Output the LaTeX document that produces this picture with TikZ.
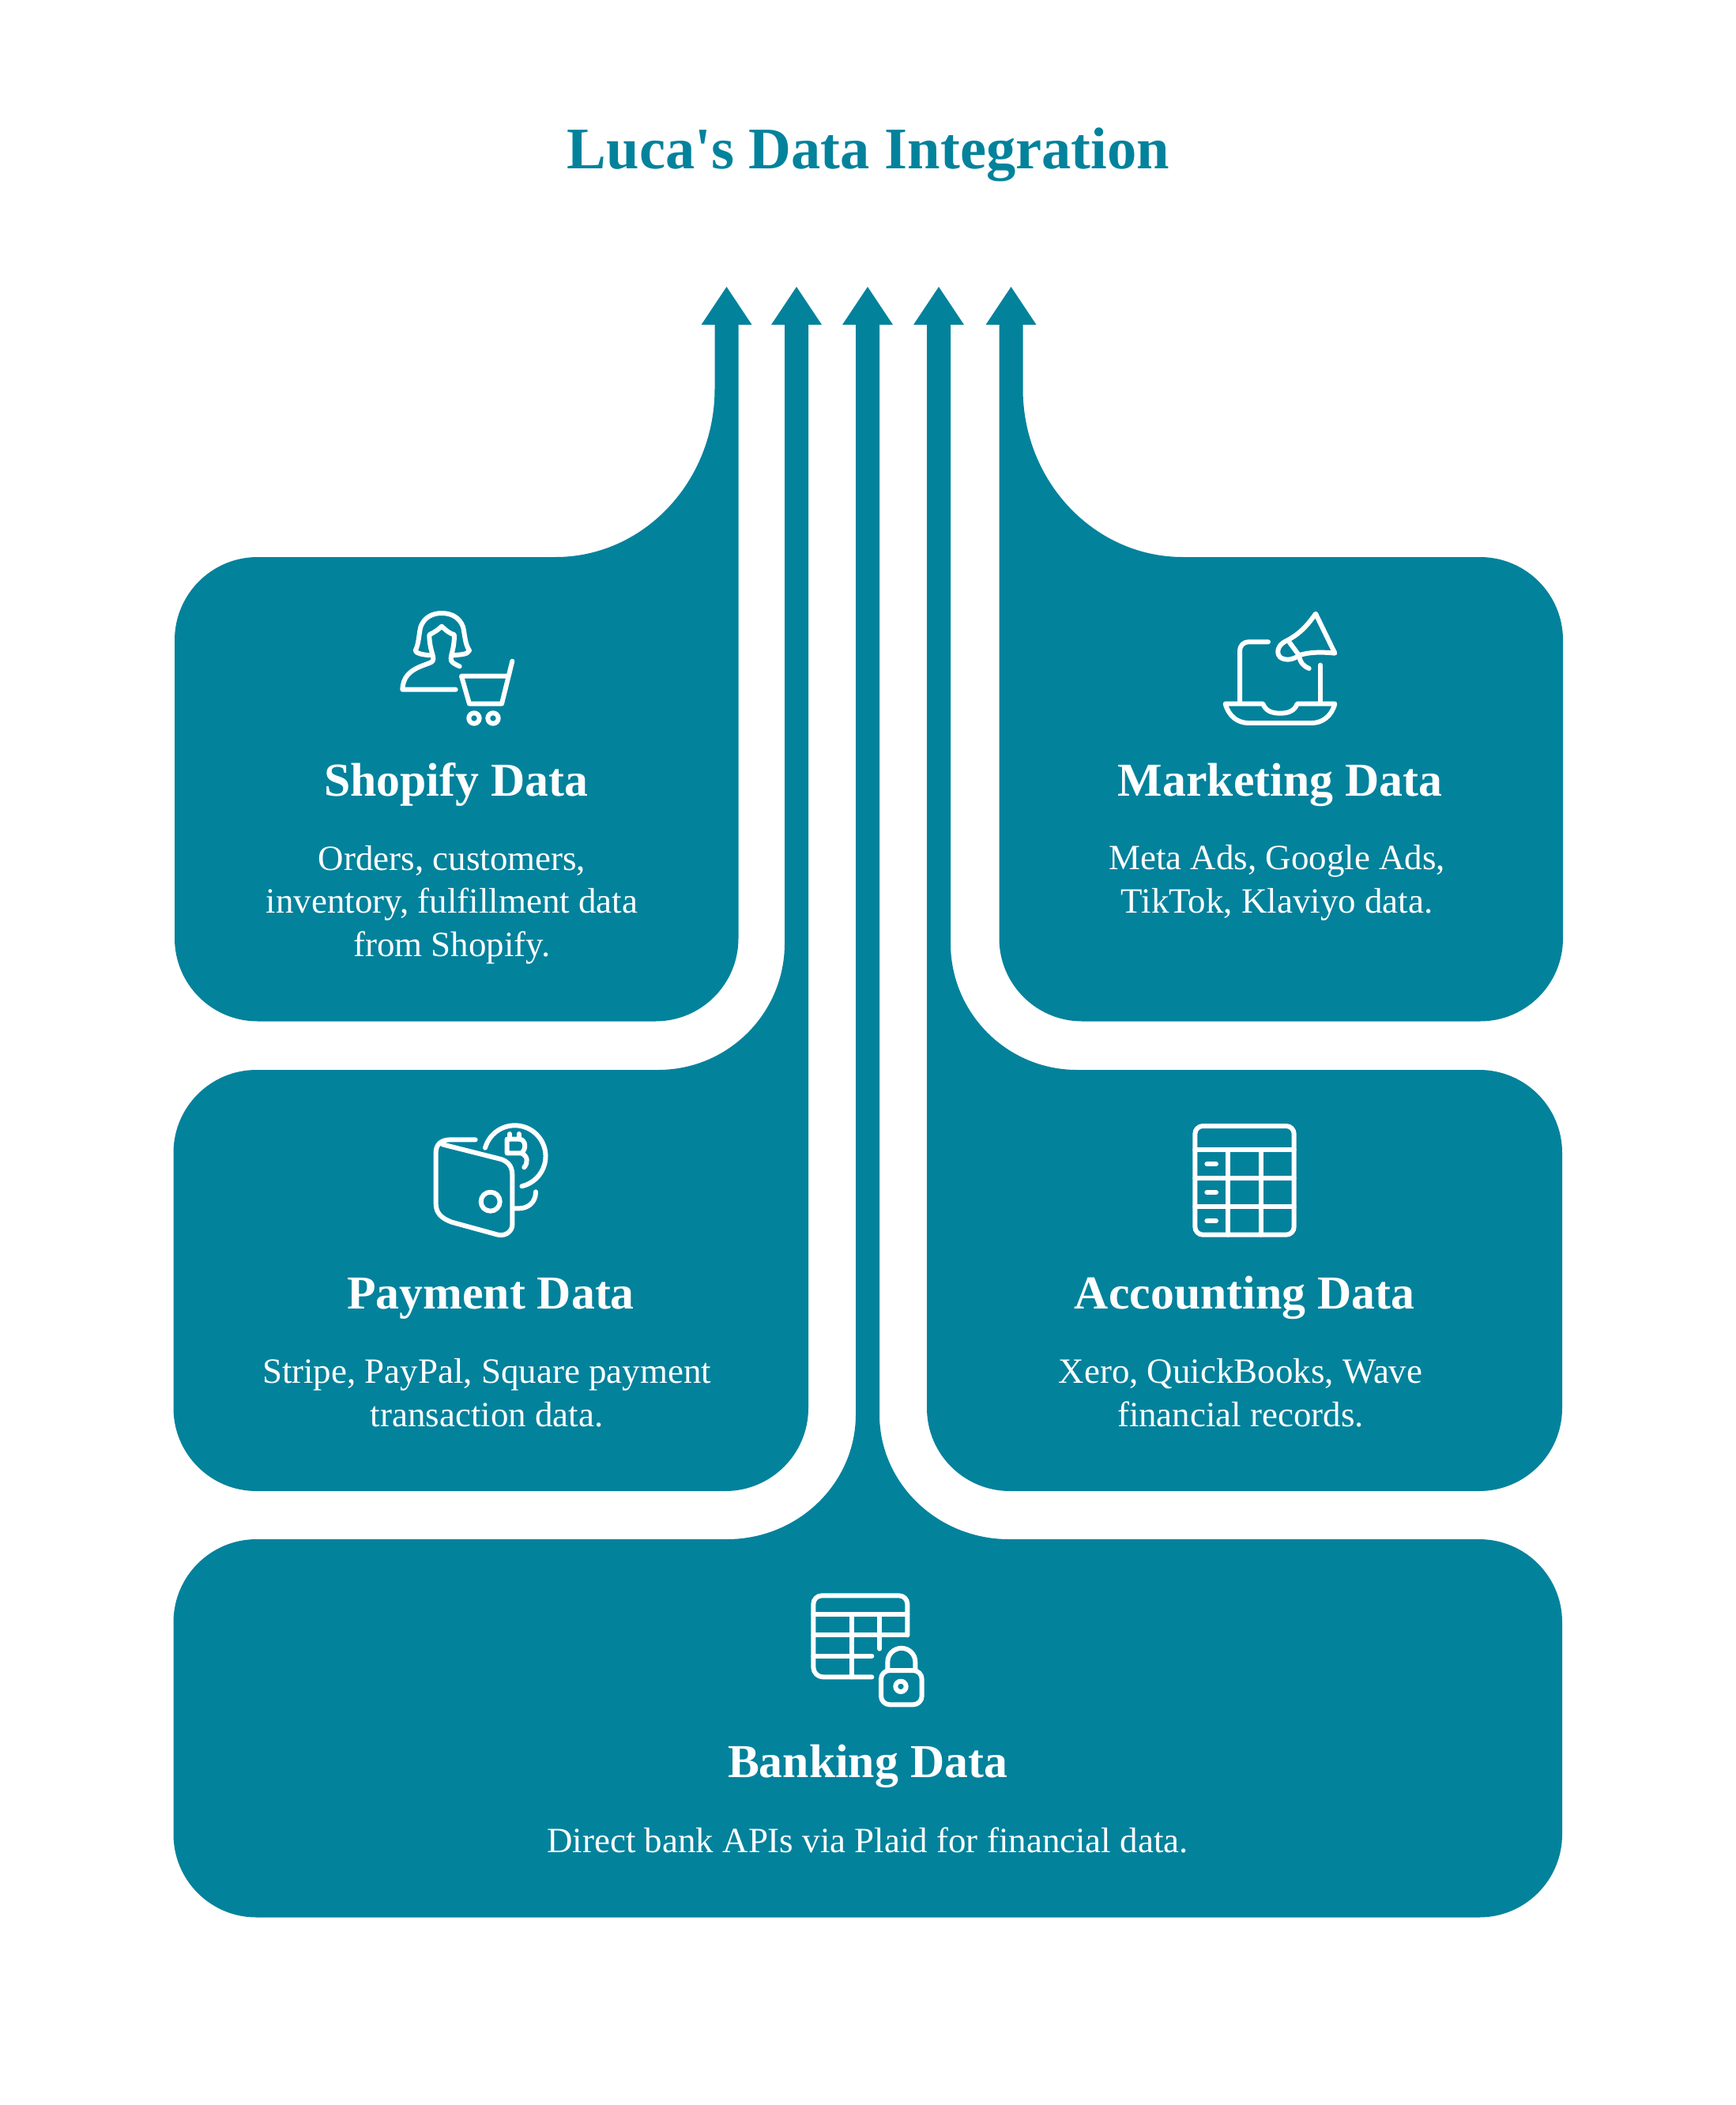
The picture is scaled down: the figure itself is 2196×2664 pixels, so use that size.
\documentclass[tikz,border=0pt]{standalone}
\usepackage{fontspec}
\setmainfont{Liberation Serif}
\definecolor{lucateal}{HTML}{03829C}
\tikzset{
  lucafill/.style={fill=lucateal},
  iconline/.style={draw=white, line width=1.7pt, line cap=round, line join=round},
  iconzoom/.style={x=0.01cm/3, y=-0.01cm/3},
  headtext/.style={anchor=base, inner sep=0pt, text=white, font=\fontsize{17}{20}\selectfont\bfseries},
  bodytext/.style={anchor=base, inner sep=0pt, text=white, align=center, font=\fontsize{12.78}{15.4}\selectfont},
}
\begin{document}
\begin{tikzpicture}[x=0.01cm, y=-0.01cm]
\useasboundingbox (0,0) rectangle (2196,2664);
\node (title) at (1099,214) [anchor=base, inner sep=0pt, text=lucateal, font=\fontsize{21.2}{25}\selectfont\bfseries] {Luca\textquotesingle s Data Integration};
% shopify
\fill [lucafill] (919.5,363) -- (951.5,411) -- (934.5,411) -- (934.5,1187.5)
  arc [start angle=0, end angle=90, radius=105] -- (326,1292.5)
  arc [start angle=90, end angle=180, radius=105] -- (221,810)
  arc [start angle=180, end angle=270, radius=105] -- (703,705)
  arc [start angle=90, end angle=0, x radius=201.5, y radius=213] -- (904.5,411) -- (887.5,411) -- cycle;
% payment
\fill [lucafill] (1008,363) -- (1040,411) -- (1023,411) -- (1023,1782)
  arc [start angle=0, end angle=90, radius=105] -- (324.5,1887)
  arc [start angle=90, end angle=180, radius=105] -- (219.5,1459)
  arc [start angle=180, end angle=270, radius=105] -- (833,1354)
  arc [start angle=90, end angle=0, x radius=160, y radius=160] -- (993,411) -- (976,411) -- cycle;
% banking
\fill [lucafill] (1098,363) -- (1130,411) -- (1113,411) -- (1113,1790)
  arc [start angle=180, end angle=90, x radius=164, y radius=158] -- (1872,1948)
  arc [start angle=270, end angle=360, radius=105] -- (1977,2321.5)
  arc [start angle=0, end angle=90, radius=105] -- (324.5,2426.5)
  arc [start angle=90, end angle=180, radius=105] -- (219.5,2053)
  arc [start angle=180, end angle=270, radius=105] -- (920,1948)
  arc [start angle=90, end angle=0, x radius=163, y radius=158] -- (1083,411) -- (1066,411) -- cycle;
% accounting
\fill [lucafill] (1188,363) -- (1220,411) -- (1203,411) -- (1203,1194)
  arc [start angle=180, end angle=90, radius=160] -- (1872,1354)
  arc [start angle=270, end angle=360, radius=105] -- (1977,1782)
  arc [start angle=0, end angle=90, radius=105] -- (1278,1887)
  arc [start angle=90, end angle=180, radius=105] -- (1173,411) -- (1156,411) -- cycle;
% marketing
\fill [lucafill] (1279.5,363) -- (1311.5,411) -- (1294.5,411) -- (1294.5,492)
  arc [start angle=180, end angle=90, x radius=202.5, y radius=213] -- (1873,705)
  arc [start angle=270, end angle=360, radius=105] -- (1978,1187.5)
  arc [start angle=0, end angle=90, radius=105] -- (1369.5,1292.5)
  arc [start angle=90, end angle=180, radius=105] -- (1264.5,411) -- (1247.5,411) -- cycle;
% texts
\node (shopifyhead) at (577,1007) [headtext] {Shopify Data};
\node (shopifybody) at (572,1210) [bodytext] {Orders, customers,\\inventory, fulfillment data\\from Shopify.};
\node (paymenthead) at (621,1656) [headtext] {Payment Data};
\node (paymentbody) at (616,1805) [bodytext] {Stripe, PayPal, Square payment\\transaction data.};
\node (accountinghead) at (1575,1656) [headtext] {Accounting Data};
\node (accountingbody) at (1570,1805) [bodytext] {Xero, QuickBooks, Wave\\financial records.};
\node (marketinghead) at (1620,1007) [headtext] {Marketing Data};
\node (marketingbody) at (1616,1155) [bodytext] {Meta Ads, Google Ads,\\TikTok, Klaviyo data.};
\node (bankinghead) at (1098,2249) [headtext] {Banking Data};
\node (bankingbody) at (1098,2344) [bodytext] {Direct bank APIs via Plaid for financial data.};
% shopify icon
\begin{scope}[shift={(480,740)}, iconzoom, iconline]
\draw (190,268) .. controls (165,265) and (140,262) .. (137,250) .. controls (150,225) and (150,190) .. (157,160) .. controls (170,125) and (200,108) .. (237,108) .. controls (275,108) and (305,125) .. (318,160) .. controls (325,190) and (325,225) .. (342,250) .. controls (335,265) and (310,265) .. (283,268);
\draw (305,310) .. controls (285,300) and (270,295) .. (272,280) .. controls (272,265) and (285,240) .. (285,190) .. controls (265,185) and (250,170) .. (237,158) .. controls (225,170) and (210,180) .. (190,190) .. controls (190,240) and (205,265) .. (205,280) .. controls (205,295) and (195,295) .. (170,305) .. controls (115,325) and (90,350) .. (88,398) -- (290,398);
\draw (505,290) -- (465,452) -- (342,452) -- (312,347) -- (482,347);
\draw (360,507) circle [radius=20];
\draw (432,507) circle [radius=20];
\end{scope}
% marketing icon
\begin{scope}[shift={(1520,740)}, iconzoom, iconline]
\draw (255,217) -- (180,217) arc [start angle=270, end angle=180, radius=33] -- (147,450);
\draw (453,305) -- (453,450);
\draw (92,452) -- (235,452) .. controls (245,480) and (270,488) .. (300,488) .. controls (330,488) and (355,480) .. (365,452) -- (508,452) .. controls (495,500) and (460,525) .. (420,525) -- (180,525) .. controls (140,525) and (105,500) .. (92,452) -- cycle;
\draw (435,110) .. controls (400,160) and (370,190) .. (320,215) .. controls (290,230) and (285,260) .. (300,275) .. controls (320,290) and (350,285) .. (372,268) .. controls (410,255) and (460,255) .. (508,260) -- cycle;
\draw (335,218) -- (372,268) .. controls (375,295) and (390,310) .. (410,318);
\end{scope}
% payment icon
\begin{scope}[shift={(530,1400)}, iconzoom, iconline]
\draw (215,127) -- (120,127) .. controls (85,127) and (65,145) .. (65,175) -- (65,370) .. controls (65,405) and (85,425) .. (125,440) -- (300,488) .. controls (335,495) and (355,470) .. (355,450) -- (355,260) .. controls (355,225) and (335,205) .. (300,198) -- (90,145);
\draw (272,362) circle [radius=36];
\draw (252,158) arc [start angle=195.8, end angle=436.8, radius=117];
\draw (345,105) -- (345,125) (380,105) -- (380,125);
\draw (335,178) -- (335,125) -- (385,125) .. controls (405,130) and (410,160) .. (390,178) -- (335,178);
\draw (390,178) .. controls (415,190) and (415,215) .. (400,232);
\draw (444,325) .. controls (444,365) and (415,388) .. (380,388) -- (360,388);
\end{scope}
% accounting icon
\begin{scope}[shift={(1470,1400)}, iconzoom, iconline]
\draw [rounded corners=0.1cm] (127,75) rectangle (503,488);
\draw (127,165) -- (503,165) (127,272) -- (503,272) (127,380) -- (503,380);
\draw (252,165) -- (252,488) (378,165) -- (378,488);
\foreach \y in {219,327,435} \draw (172,\y) -- (207,\y);
\end{scope}
% banking icon
\begin{scope}[shift={(1000,1990)}, iconzoom, iconline]
\draw (445,238) -- (445,120) arc [start angle=0, end angle=-90, radius=32] -- (120,88) arc [start angle=270, end angle=180, radius=32] -- (88,360) arc [start angle=180, end angle=90, radius=37] -- (310,397);
\draw (88,160) -- (445,160) (88,238) -- (445,238) (88,317) -- (310,317);
\draw (235,160) -- (235,397) (340,160) -- (340,290);
\draw [rounded corners=0.11cm] (345,372) rectangle (500,502);
\draw (370,372) -- (370,340) arc [start angle=180, end angle=360, radius=52.5] -- (475,372);
\draw (420,433) circle [radius=20];
\end{scope}
\end{tikzpicture}
\end{document}
